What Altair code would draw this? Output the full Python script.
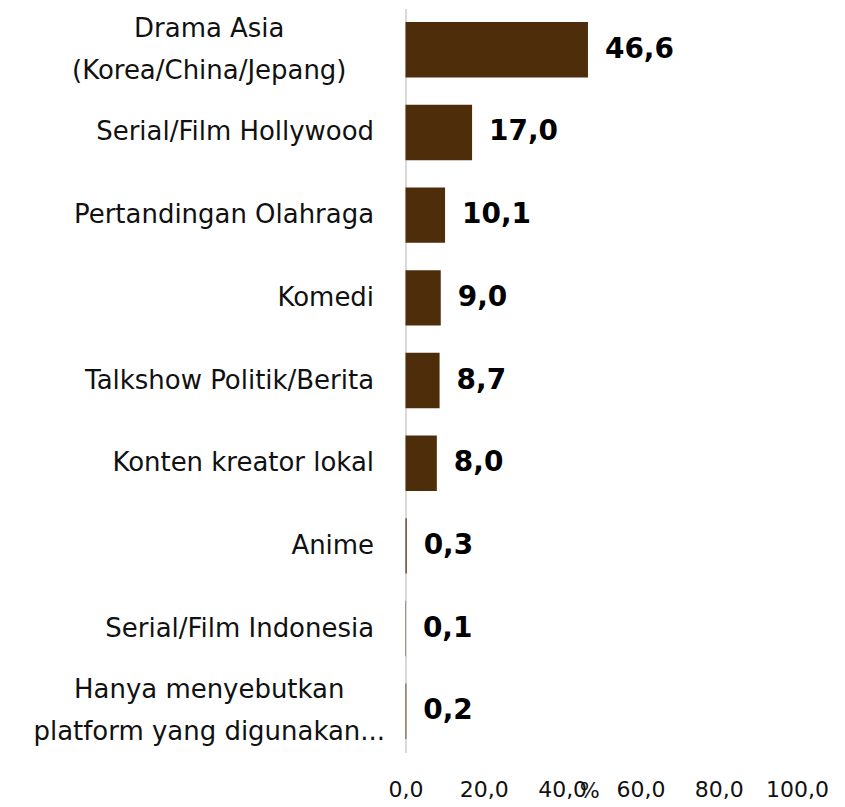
import altair as alt
import pandas as pd

categories = [
    "Drama Asia\n(Korea/China/Jepang)",
    "Serial/Film Hollywood",
    "Pertandingan Olahraga",
    "Komedi",
    "Talkshow Politik/Berita",
    "Konten kreator lokal",
    "Anime",
    "Serial/Film Indonesia",
    "Hanya menyebutkan\nplatform yang digunakan...",
]
values = [46.6, 17.0, 10.1, 9.0, 8.7, 8.0, 0.3, 0.1, 0.2]
x_ticks = [0, 20, 40, 60, 80, 100]

df = pd.DataFrame({"kategori": categories, "nilai": values})

FONT = "DejaVu Sans"
BROWN = "#4e2d0b"
MULTI = "indexof(datum.value, '\\n') >= 0"

base = alt.Chart(df).encode(
    y=alt.Y(
        "kategori:N",
        sort=categories,
        scale=alt.Scale(paddingInner=0.33, paddingOuter=0.165),
        axis=alt.Axis(
            title=None,
            ticks=False,
            domain=True,
            domainColor="#d9d9d9",
            domainWidth=2,
            labelFont=FONT,
            labelFontSize=26,
            labelColor="#111111",
            labelLimit=500,
            labelLineHeight=42,
            labelExpr="split(datum.label, '\\n')",
            labelAlign={"condition": {"test": MULTI, "value": "center"}, "value": "right"},
            labelPadding={"condition": {"test": MULTI, "value": 197}, "value": 32},
            labelOffset={"condition": {"test": MULTI, "value": -21}, "value": 0},
        ),
    )
)

bars = base.mark_bar(color=BROWN).encode(
    x=alt.X(
        "nilai:Q",
        scale=alt.Scale(domain=[0, 100]),
        axis=alt.Axis(
            values=x_ticks,
            title="%",
            titleFont=FONT,
            titleFontSize=21,
            titleFontWeight="normal",
            titleColor="#111111",
            titleX=184,
            titleY=28,
            titleBaseline="top",
            titleAlign="center",
            grid=False,
            ticks=False,
            domain=False,
            labelFlush=False,
            labelOverlap=False,
            labelFont=FONT,
            labelFontSize=22,
            labelColor="#111111",
            labelPadding=27,
            labelExpr="replace(format(datum.value, '.1f'), '.', ',')",
        ),
    )
)

labels = base.mark_text(
    align="left", baseline="middle", dx=17, font=FONT, fontSize=28, fontWeight="bold", color="#000000"
).transform_calculate(
    teks="replace(format(datum.nilai, '.1f'), '.', ',')"
).encode(x="nilai:Q", text="teks:N")

chart = (
    (bars + labels)
    .properties(
        width=392,
        height=745,
        autosize=alt.AutoSizeParams(type="none"),
        padding={"left": 398, "top": 0, "right": 40, "bottom": 50},
        background="white",
    )
    .configure_view(stroke=None)
)

chart.save("out.html", embed_options={"renderer": "svg", "actions": False})
